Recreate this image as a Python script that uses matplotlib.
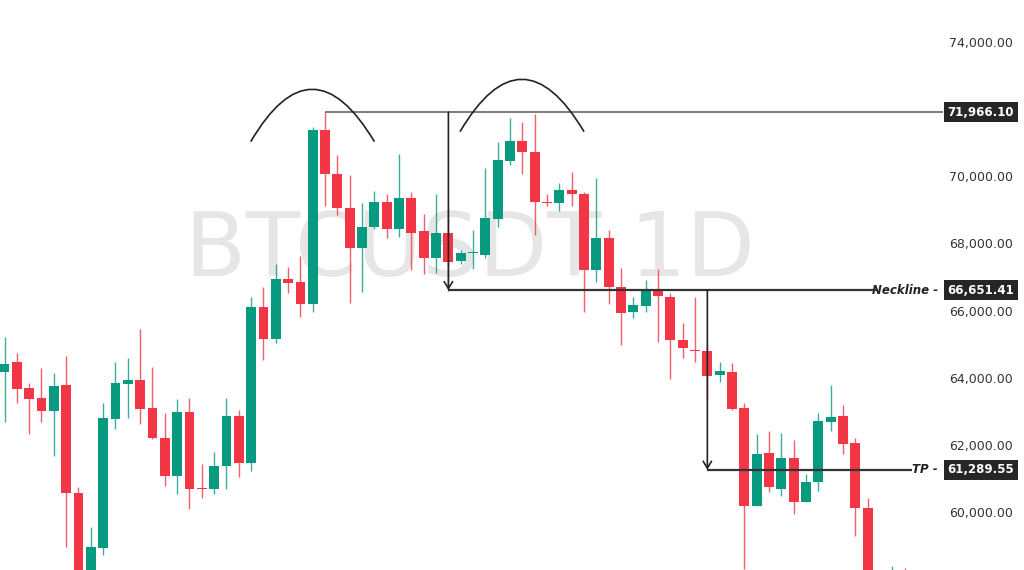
import numpy as np
import matplotlib.pyplot as plt
import matplotlib.transforms as mtransforms
from matplotlib.path import Path
from matplotlib.patches import PathPatch

# daily BTCUSDT candles
opens = [64200, 64500, 63720, 63420, 63050, 63830, 60600, 57700, 58960, 62810,
         63840, 63970, 63130, 62250, 61100, 63020, 60760, 60730, 61400, 62900,
         61480, 66160, 65190, 66990, 66890, 66240, 71430, 70120, 69100, 67920,
         68530, 69270, 68480, 69410, 68420, 67600, 68350, 67520, 67750, 67700,
         68780, 70520, 71100, 70790, 69290, 69260, 69640, 69510, 67250, 68220,
         66750, 66010, 66180, 66640, 66460, 65160, 64880, 64850, 64120, 64210,
         63130, 60220, 61780, 60720, 61630, 60340, 60920, 62730, 62890, 62080,
         60140, 57600, 57300, 58000]
highs = [65260, 64790, 63890, 64320, 64190, 64690, 60790, 59570, 63290, 64500,
         64620, 65490, 64370, 62980, 63400, 63430, 61450, 61830, 63440, 63080,
         66440, 66740, 67430, 67350, 67670, 71530, 71966.1, 70690, 70090, 69250,
         69610, 69520, 70720, 69570, 68930, 69510, 69070, 67850, 68450, 70290,
         71070, 71780, 71660, 71900, 69520, 69840, 70190, 69590, 69990, 68450,
         67320, 66440, 66960, 67280, 66580, 65680, 66460, 65020, 64500, 64480,
         63280, 62350, 62450, 62380, 62180, 61160, 62990, 63820, 63220, 62230,
         60440, 58100, 58420, 58360]
lows = [62730, 63280, 62360, 62730, 61710, 58990, 57000, 57300, 58750, 62500,
        62850, 62660, 62200, 60810, 60570, 60110, 60440, 60570, 60710, 61070,
        61260, 64570, 65070, 66560, 65860, 66010, 69160, 68900, 66260, 66610,
        68480, 68200, 68250, 67250, 67130, 67160, 66630, 67430, 67280, 67600,
        68550, 70390, 70120, 68300, 69160, 69020, 69160, 66010, 66900, 66240,
        65020, 65830, 66010, 65100, 63990, 64620, 64500, 63360, 63920, 63080,
        58320, 60200, 60640, 60520, 59970, 60320, 60670, 62460, 61760, 59310,
        57400, 57000, 57100, 57400]
closes = [64450, 63700, 63400, 63050, 63800, 60590, 57800, 58990, 62850, 63870,
          63970, 63100, 62230, 61100, 63020, 60730, 60730, 61410, 62900, 61480,
          66160, 65190, 66990, 66870, 66240, 71430, 70120, 69100, 67920, 68530,
          69270, 68480, 69410, 68370, 67600, 68350, 67480, 67750, 67780, 68800,
          70540, 71100, 70790, 69290, 69250, 69640, 69510, 67250, 68220, 66750,
          65980, 66210, 66640, 66480, 65160, 64920, 64840, 64100, 64240, 63100,
          60220, 61750, 60790, 61630, 60340, 60920, 62760, 62860, 62060, 60140,
          57600, 57300, 58000, 57700]

yticks = [74000, 70000, 68000, 66000, 64000, 62000, 60000]
top_level = 71966.10
neckline = 66651.41
tp_level = 61289.55
top_bar, neck_bar, tp_bar = 26, 36, 57

# the two "tops" marked with arcs: (start x, peak x, end x, end y, peak y)
arc1 = (19.97, 24.93, 30.0, 71084, 72648)
arc2 = (36.94, 41.95, 47.0, 71382, 72946)

green = '#089981'
red = '#f23645'

fig = plt.figure(figsize=(10.24, 5.70), dpi=100)
ax = fig.add_axes([0, 0, 1, 1])
ax.set_xlim(-0.365, 82.68)
ax.set_ylim(58299, 75313)
ax.axis('off')
x0, x1 = ax.get_xlim()


def xr(frac):
    return x0 + frac * (x1 - x0)


blend = mtransforms.blended_transform_factory(ax.transAxes, ax.transData)

# watermark
ax.text(0.459, 0.516, 'BTCUSDT 1D', transform=ax.transAxes, fontsize=64,
        color='#e6e6e6', ha='center', va='baseline', zorder=0)

o = np.array(opens)
h = np.array(highs)
l = np.array(lows)
c = np.array(closes)
x = np.arange(len(o))
col = np.where(c >= o, green, red)
ax.vlines(x, l, h, colors=col, lw=1, alpha=0.8, zorder=2)
body = np.maximum(np.abs(c - o), 25)
ax.bar(x, body, bottom=np.minimum(o, c), width=0.8, color=col, zorder=3)

# pattern drawings
ax.hlines(top_level, top_bar, xr(0.921), color='#666666', lw=1.2, zorder=4)
ax.hlines(neckline, neck_bar, xr(0.857), color='#333333', lw=1.6, zorder=4)
ax.hlines(tp_level, tp_bar, xr(0.891), color='#333333', lw=1.6, zorder=4)
ax.annotate('', xy=(neck_bar, neckline), xytext=(neck_bar, top_level),
            arrowprops=dict(arrowstyle='->,head_length=0.5,head_width=0.3',
                            color='#222222', lw=1.2, shrinkA=0, shrinkB=0),
            zorder=4)
ax.annotate('', xy=(tp_bar, tp_level), xytext=(tp_bar, neckline),
            arrowprops=dict(arrowstyle='->,head_length=0.5,head_width=0.3',
                            color='#222222', lw=1.2, shrinkA=0, shrinkB=0),
            zorder=4)

for xs, xp, xe, ye, yp in (arc1, arc2):
    path = Path([(xs, ye), (xp, 2 * yp - ye), (xe, ye)],
                [Path.MOVETO, Path.CURVE3, Path.CURVE3])
    ax.add_patch(PathPatch(path, fc='none', ec='#222222', lw=1.2, zorder=4))

# price scale
for t in yticks:
    ax.text(0.958, t, f'{t:,.2f}', transform=blend, ha='center', va='center',
            fontsize=9, color='#333333')

for val in (top_level, neckline, tp_level):
    ax.text(0.958, val, f'{val:,.2f}', transform=blend, ha='center',
            va='center', fontsize=8.5, fontweight='bold', color='white',
            bbox=dict(boxstyle='square,pad=0.3', fc='#262626', ec='none'))

ax.text(0.916, neckline, 'Neckline -', transform=blend, ha='right',
        va='center', fontsize=8.5, style='italic', fontweight='bold',
        color='#222222')
ax.text(0.916, tp_level, 'TP -', transform=blend, ha='right', va='center',
        fontsize=8.5, style='italic', fontweight='bold', color='#222222')

fig.savefig('out.png', dpi=100)
